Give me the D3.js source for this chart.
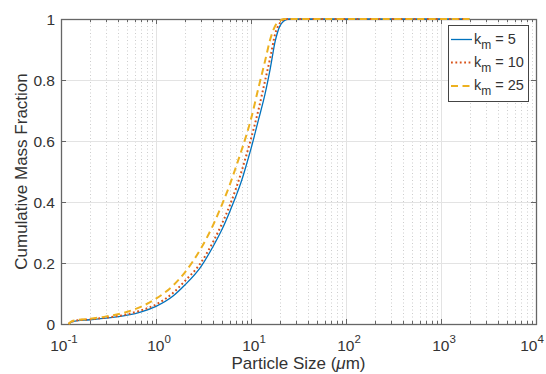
<!DOCTYPE html>
<html>
<head>
<meta charset="utf-8">
<script src="https://cdn.jsdelivr.net/npm/d3@7"></script>
<style>
  body { margin: 0; background: #fff; }
  svg { display: block; }
  text { font-family: "Liberation Sans", Arial, Helvetica, sans-serif; fill: #333; }
</style>
</head>
<body>
<svg id="chart" width="546" height="374"></svg>
<script>
// Particle sizes (µm) at which the cumulative mass fraction is sampled
const sizes = [0.12, 0.13, 0.15, 0.2, 0.3, 0.5, 0.7, 1, 1.5, 2, 3, 4, 5, 6, 7, 8, 9, 10,
               12, 14, 16, 18, 20, 22, 25, 30, 50, 100, 300, 1000, 2000];

// Cumulative mass fraction for each k_m
const km5  = [0, 0.007, 0.011, 0.014, 0.019, 0.029, 0.040, 0.058, 0.091, 0.127, 0.190, 0.255, 0.313, 0.370, 0.422, 0.472, 0.525, 0.575,
              0.67, 0.752, 0.84, 0.928, 0.975, 0.993, 1, 1, 1, 1, 1, 1, 1];
const km10 = [0, 0.008, 0.012, 0.015, 0.021, 0.032, 0.045, 0.064, 0.101, 0.140, 0.203, 0.270, 0.332, 0.390, 0.447, 0.503, 0.557, 0.607,
              0.703, 0.795, 0.875, 0.952, 0.985, 0.997, 1, 1, 1, 1, 1, 1, 1];
const km25 = [0, 0.009, 0.013, 0.017, 0.025, 0.040, 0.057, 0.083, 0.125, 0.168, 0.250, 0.325, 0.395, 0.458, 0.518, 0.572, 0.622, 0.672,
              0.775, 0.860, 0.935, 0.978, 0.993, 1, 1, 1, 1, 1, 1, 1, 1];

const seriesLabels = ["5", "10", "25"];
const seriesColors = ["#0072BD", "#D95319", "#EDB120"];

const yTicks = [0, 0.2, 0.4, 0.6, 0.8, 1];
const yTickLabels = ["0", "0.2", "0.4", "0.6", "0.8", "1"];
const xDecadeExponents = [-1, 0, 1, 2, 3, 4];

const xTitle = "Particle Size (";
const yTitle = "Cumulative Mass Fraction";

const svg = d3.select("#chart");
const margin = { left: 61, right: 10, top: 19, bottom: 50 };
const W = 546, H = 374;
const x = d3.scaleLog().domain([0.1, 1e4]).range([margin.left, W - margin.right]);
const y = d3.scaleLinear().domain([0, 1]).range([H - margin.bottom, margin.top]);
const [x0, x1] = x.range();
const [yb, yt] = y.range();

// Minor tick positions: 2..9 within each decade
const minorTicks = [];
xDecadeExponents.slice(0, -1).forEach(e => {
  for (let m = 2; m <= 9; m++) minorTicks.push(m * Math.pow(10, e));
});
const majorTicks = xDecadeExponents.map(e => Math.pow(10, e));

const grid = svg.append("g");
// minor vertical grid (dotted)
grid.selectAll(".minor").data(minorTicks).join("line")
  .attr("x1", d => Math.round(x(d)) + 0.5).attr("x2", d => Math.round(x(d)) + 0.5)
  .attr("y1", yt).attr("y2", yb)
  .attr("stroke", "#cdcdcd").attr("stroke-width", 1).attr("stroke-dasharray", "1,2.5");
// major vertical grid
grid.selectAll(".majx").data(majorTicks.slice(1, -1)).join("line")
  .attr("x1", d => Math.round(x(d)) + 0.5).attr("x2", d => Math.round(x(d)) + 0.5)
  .attr("y1", yt).attr("y2", yb)
  .attr("stroke", "#e3e3e3").attr("stroke-width", 1);
// major horizontal grid
grid.selectAll(".majy").data(yTicks.slice(1, -1)).join("line")
  .attr("x1", x0).attr("x2", x1)
  .attr("y1", d => Math.round(y(d)) + 0.5).attr("y2", d => Math.round(y(d)) + 0.5)
  .attr("stroke", "#e3e3e3").attr("stroke-width", 1);

// Axes box with inward ticks on all four sides
const axisColor = "#666";
const axes = svg.append("g");
const majLen = 5, minLen = 3;
const xTickData = majorTicks.map(v => ({ v, len: majLen })).concat(minorTicks.map(v => ({ v, len: minLen })));
axes.selectAll(".xtb").data(xTickData).join("line")
  .attr("x1", d => Math.round(x(d.v)) + 0.5).attr("x2", d => Math.round(x(d.v)) + 0.5)
  .attr("y1", yb).attr("y2", d => yb - d.len)
  .attr("stroke", axisColor);
axes.selectAll(".xtt").data(xTickData).join("line")
  .attr("x1", d => Math.round(x(d.v)) + 0.5).attr("x2", d => Math.round(x(d.v)) + 0.5)
  .attr("y1", yt).attr("y2", d => yt + d.len)
  .attr("stroke", axisColor);
axes.selectAll(".ytl").data(yTicks).join("line")
  .attr("x1", x0).attr("x2", x0 + majLen)
  .attr("y1", d => Math.round(y(d)) + 0.5).attr("y2", d => Math.round(y(d)) + 0.5)
  .attr("stroke", axisColor);
axes.selectAll(".ytr").data(yTicks).join("line")
  .attr("x1", x1).attr("x2", x1 - majLen)
  .attr("y1", d => Math.round(y(d)) + 0.5).attr("y2", d => Math.round(y(d)) + 0.5)
  .attr("stroke", axisColor);
axes.append("rect")
  .attr("x", x0 + 0.5).attr("y", yt + 0.5)
  .attr("width", x1 - x0).attr("height", yb - yt)
  .attr("fill", "none").attr("stroke", axisColor).attr("stroke-width", 1.3);

// Tick labels (log decades as 10^n)
const xl = svg.append("g").attr("font-size", 15.5).attr("text-anchor", "middle");
xDecadeExponents.forEach(e => {
  const cx = Math.min(x(Math.pow(10, e)) + 3, W - 14);
  const t = xl.append("text").attr("x", cx).attr("y", 351);
  t.append("tspan").text("10");
  t.append("tspan").attr("font-size", 11.5).attr("dy", -8).text(String(e));
});
svg.append("g").attr("font-size", 15.5).attr("text-anchor", "end")
  .selectAll("text").data(yTicks).join("text")
  .attr("x", x0 - 6).attr("y", d => y(d) + 5.5)
  .text((d, i) => yTickLabels[i]);

// Axis titles
const xt = svg.append("text").attr("x", (x0 + x1) / 2).attr("y", 369)
  .attr("text-anchor", "middle").attr("font-size", 17);
xt.append("tspan").text(xTitle);
xt.append("tspan").attr("font-style", "italic").text("\u03bc");
xt.append("tspan").text("m)");
svg.append("text")
  .attr("transform", `translate(27,${(yt + yb) / 2}) rotate(-90)`)
  .attr("text-anchor", "middle").attr("font-size", 17)
  .text(yTitle);

// Curves
const seriesData = [km5, km10, km25];
const dashes = [null, "1.8,2.6", "7,4.5"];
const widths = [1.3, 2, 2];
const line = d3.line()
  .x(d => x(d[0])).y(d => y(d[1]))
  .curve(d3.curveMonotoneX);
const curves = svg.append("g").attr("fill", "none");
seriesData.forEach((vals, i) => {
  curves.append("path")
    .datum(sizes.map((s, j) => [s, vals[j]]))
    .attr("d", line)
    .attr("stroke", seriesColors[i])
    .attr("stroke-width", widths[i])
    .attr("stroke-dasharray", dashes[i]);
});

// Legend
const lg = svg.append("g");
lg.append("rect").attr("x", 448.5).attr("y", 25.5).attr("width", 80).attr("height", 76)
  .attr("fill", "#fff").attr("stroke", "#444").attr("stroke-width", 1);
const rowY = [39.5, 62.5, 86];
seriesLabels.forEach((lab, i) => {
  lg.append("line").attr("x1", 451).attr("x2", 472)
    .attr("y1", rowY[i]).attr("y2", rowY[i])
    .attr("stroke", seriesColors[i]).attr("stroke-width", widths[i])
    .attr("stroke-dasharray", dashes[i]);
  const t = lg.append("text").attr("x", 474).attr("y", rowY[i] + 4).attr("font-size", 14.5);
  t.append("tspan").text("k");
  t.append("tspan").attr("font-size", 12).attr("dy", 5).text("m");
  t.append("tspan").attr("dy", -5).text(" = " + lab);
});
</script>
</body>
</html>
